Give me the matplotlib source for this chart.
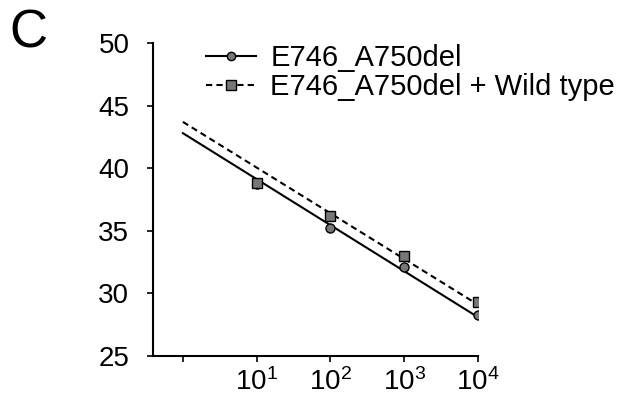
import numpy as np
import matplotlib
matplotlib.use("Agg")
import matplotlib.pyplot as plt
from matplotlib.ticker import FixedLocator, FuncFormatter

plt.rcParams['font.family'] = ['Liberation Sans', 'DejaVu Sans']
plt.rcParams['mathtext.fontset'] = 'custom'
plt.rcParams['mathtext.rm'] = 'Liberation Sans'
plt.rcParams['mathtext.it'] = 'Liberation Sans:italic'
plt.rcParams['mathtext.bf'] = 'Liberation Sans:bold'

# Data
copies = [1e1, 1e2, 1e3, 1e4]
ct_mut = [38.7, 35.2, 32.1, 28.3]
ct_mix = [38.8, 36.2, 33.0, 29.3]
fit_x = [1e0, 1e4]
fit_mut = [42.8, 28.1]
fit_mix = [43.7, 29.1]
labels = ['E746_A750del', 'E746_A750del + Wild type']
xticks = [1e0, 1e1, 1e2, 1e3, 1e4]
yticks = [25, 30, 35, 40, 45, 50]

fig = plt.figure(figsize=(6.23, 3.99), dpi=100)
ax = fig.add_axes([153/623, 1-356/399, 325/623, 313/399])

ax.plot(fit_x, fit_mut, '-', color='black', lw=1.5)
ax.plot(fit_x, fit_mix, '--', color='black', lw=1.5, dashes=(3, 2))
ax.plot(copies, ct_mut, 'o', color='#777777', mec='black', mew=1, ms=6.5)
ax.plot(copies, ct_mix, 's', color='#777777', mec='black', mew=1, ms=6.5)

# legend proxies
h1, = ax.plot([], [], '-', color='black', lw=1.5, marker='o', mfc='#777777', mec='black', ms=6)
h2, = ax.plot([], [], '--', color='black', lw=1.5, dashes=(3, 2), marker='s', mfc='#777777', mec='black', ms=7)

ax.set_xscale('log')
ax.set_xlim(10**-0.405, 1e4)
ax.set_ylim(25, 50)
ax.xaxis.set_major_locator(FixedLocator(xticks))
ax.xaxis.set_minor_locator(FixedLocator([]))
ax.xaxis.set_major_formatter(FuncFormatter(
    lambda v, p: '' if v < 5 else r'$\mathdefault{10^{%d}}$' % round(np.log10(v))))
ax.set_yticks(yticks)

for s in ['top', 'right']:
    ax.spines[s].set_visible(False)
for s in ['left', 'bottom']:
    ax.spines[s].set_linewidth(1.5)
ax.tick_params(axis='both', labelsize=20, length=4, width=1.2, direction='out')
ax.tick_params(axis='y', pad=13)
ax.tick_params(axis='x', pad=5)

fig.legend([h1, h2], labels, loc='upper left', bbox_to_anchor=(206/623, 1-44/399),
           frameon=False, fontsize=21, handlelength=1.7, handletextpad=0.5,
           labelspacing=0.05, borderpad=0, borderaxespad=0)

fig.text(28/623, 1-34/399, 'C', fontsize=38, ha='center', va='center')

fig.savefig('out.png', dpi=100)
